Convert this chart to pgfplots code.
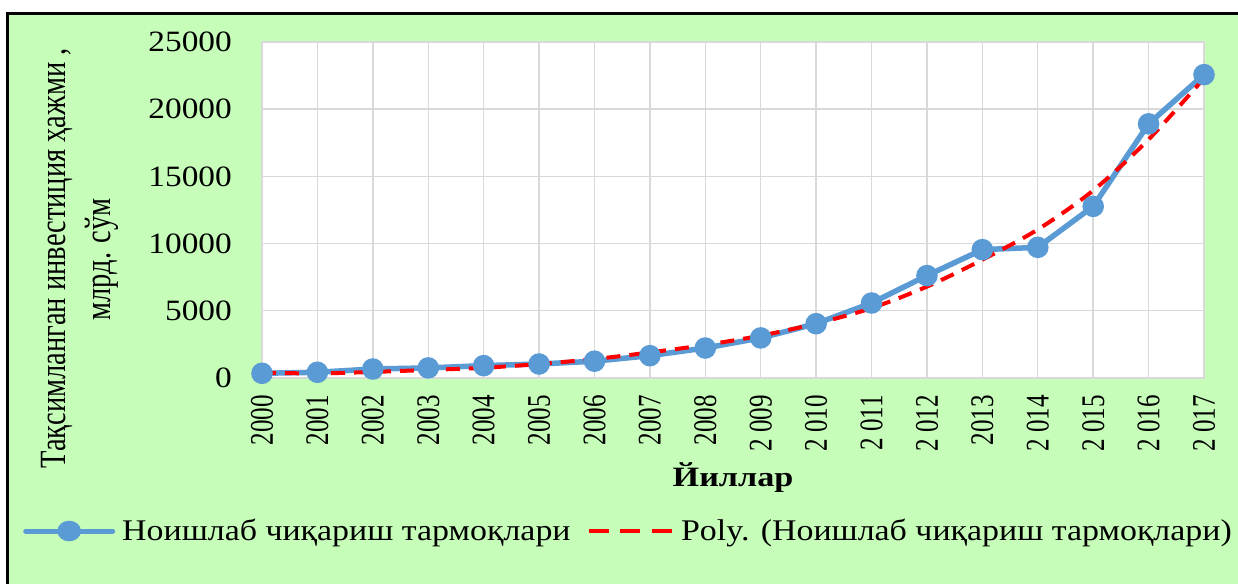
\documentclass[border=0pt]{standalone}
\usepackage{fontspec}
\setmainfont{Liberation Serif}
\usepackage{pgfplots}
\pgfplotsset{compat=1.18}
\newfontfamily\hfont{Liberation Serif}[FakeStretch=1.13]
\newfontfamily\xlfont{Liberation Serif}[FakeStretch=1.22]
\newfontfamily\xtfont{Liberation Serif}[FakeStretch=0.76]
\newfontfamily\ylfont{Liberation Serif}[FakeStretch=0.77]
\definecolor{bg}{RGB}{198,253,185}
\definecolor{ser}{RGB}{91,155,213}
\definecolor{gridc}{RGB}{217,217,217}
\begin{document}
\begin{tikzpicture}[x=1bp,y=1bp]
\fill[white] (0,0) rectangle (1238,584);
\fill[bg] (9,0) rectangle (1238,569);
\draw[black,line width=3bp] (7.5,0) -- (7.5,570.5) -- (1238,570.5);
\begin{axis}[
  at={(262bp,206bp)}, anchor=south west,
  scale only axis, width=942bp, height=336bp,
  xmin=2000, xmax=2017, ymin=0, ymax=25000,
  clip=false,
  scaled y ticks=false, scaled x ticks=false,
  axis background/.style={fill=white},
  xtick={2000,2001,2002,2003,2004,2005,2006,2007,2008,2009,2010,2011,2012,2013,2014,2015,2016,2017},
  xticklabels={2000,2001,2002,2003,2004,2005,2006,2007,2008,2 009,2 010,2 011,2 012,2013,2 014,2 015,2 016,2 017},
  ytick={0,5000,10000,15000,20000,25000},
  yticklabels={0,5000,10000,15000,20000,25000},
  grid=major, grid style={gridc, line width=1.4bp},
  axis line style={gridc, line width=1.4bp},
  major tick length=0pt,
  /pgf/number format/assume math mode=true,
  yticklabel style={xshift=-30bp, font=\hfont\fontsize{29.5bp}{30bp}\selectfont, anchor=east, inner sep=0pt},
  xticklabel style={yshift=-17bp, rotate=90, font=\xtfont\fontsize{33bp}{33bp}\selectfont, anchor=east, inner sep=0pt},
  legend columns=2,
  legend cell align=left,
  legend style={at={(-0.25372,-0.4554)}, anchor=west, draw=none, fill=none, inner sep=0pt, column sep=7bp,
    nodes={inner sep=0pt, font=\hfont\fontsize{30bp}{30bp}\selectfont}},
]
\addplot[ser, line width=5.5bp, mark=*, mark size=8bp, mark options={fill=ser, draw=none},
  legend image code/.code={
    \draw[ser, line width=5bp, line cap=round] (2.5bp,0bp) -- (89.5bp,0bp);
    \fill[ser] (46bp,0bp) ellipse (9bp and 7.5bp);
  }] coordinates {
  (2000,350) (2001,425) (2002,670) (2003,750) (2004,920) (2005,1040) (2006,1250)
  (2007,1660) (2008,2230) (2009,2980) (2010,4040) (2011,5580) (2012,7620)
  (2013,9550) (2014,9720) (2015,12770) (2016,18910) (2017,22570)};
\addlegendentry{Ноишлаб чиқариш тармоқлари\hspace*{9bp}}
\addplot[red, line width=4bp, dash pattern=on 14bp off 9bp, smooth,
  legend image code/.code={
    \draw[red, line width=4.5bp, dash pattern=on 20bp off 11.5bp] (0bp,0bp) -- (83bp,0bp);
  }] coordinates {
  (2000,400) (2001,340) (2002,450) (2003,600) (2004,760) (2005,1040) (2006,1410)
  (2007,1900) (2008,2460) (2009,3150) (2010,4050) (2011,5200) (2012,6800)
  (2013,8800) (2014,11050) (2015,13950) (2016,17750) (2017,22300)};
\addlegendentry{Poly. (Ноишлаб чиқариш тармоқлари)}
\end{axis}
\node[rotate=90, anchor=base, inner sep=0pt, font=\ylfont\fontsize{37bp}{37bp}\selectfont] at (65,325.5) {Тақсимланган инвестиция ҳажми ,};
\node[rotate=90, anchor=base, inner sep=0pt, font=\ylfont\fontsize{37bp}{37bp}\selectfont] at (110,324.5) {млрд. сўм};
\node[anchor=base, inner sep=0pt, font=\xlfont\bfseries\fontsize{28bp}{28bp}\selectfont] at (733,97.3) {Йиллар};
\pgfresetboundingbox
\useasboundingbox (0,0) rectangle (1238,584);
\end{tikzpicture}
\end{document}
